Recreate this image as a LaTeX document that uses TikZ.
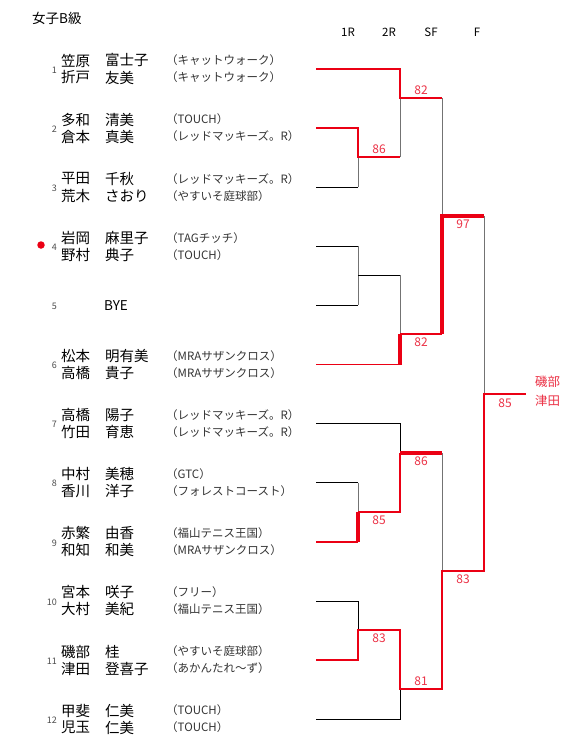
\documentclass[tikz,border=0pt]{standalone}
\usepackage{fontspec}
\setmainfont{Noto Sans CJK JP}
\usetikzlibrary{positioning}
\definecolor{winred}{RGB}{235,0,20}
\definecolor{ptsred}{RGB}{235,50,70}

\begin{document}
\begin{tikzpicture}[x=1pt, y=-1pt,
player/.style={anchor=west, inner sep=0pt, font=\fontsize{14.5}{14.5}\selectfont},
club/.style={anchor=west, inner sep=0pt, font=\fontsize{11.5}{11.5}\selectfont, text=black!80},
seedno/.style={anchor=east, inner sep=0pt, font=\fontsize{9}{9}\selectfont, text=black!70},
pts/.style={inner sep=0pt, font=\fontsize{12}{12}\selectfont, text=ptsred},
rnd/.style={inner sep=0pt, font=\fontsize{11.5}{11.5}\selectfont},
champ/.style={anchor=west, inner sep=0pt, font=\fontsize{12.5}{12.5}\selectfont, text=ptsred},
lose/.style={draw=black, line width=0.8pt},
losev/.style={draw=black!55, line width=1pt},
win/.style={draw=winred, line width=1.8pt},
winb/.style={draw=winred, line width=3.2pt}
]
\useasboundingbox (0,0) rectangle (579,756);

% title and round headers
\node[anchor=west, inner sep=0pt, font=\fontsize{13.5}{13.5}\selectfont] (title) at (32,18) {女子B級};
\node[rnd] (h1) at (348,32) {1R};
\node[rnd] (h2) at (389,32) {2R};
\node[rnd] (h3) at (431,32) {SF};
\node[rnd] (h4) at (477,32) {F};

% entries
\foreach \i/\sa/\ga/\ca/\sb/\gb/\cb in {
1/笠原/富士子/（キャットウォーク）/折戸/友美/（キャットウォーク）,
2/多和/清美/（TOUCH）/倉本/真美/（レッドマッキーズ。R）,
3/平田/千秋/（レッドマッキーズ。R）/荒木/さおり/（やすいそ庭球部）,
4/岩岡/麻里子/（TAGチッチ）/野村/典子/（TOUCH）,
6/松本/明有美/（MRAサザンクロス）/高橋/貴子/（MRAサザンクロス）,
7/高橋/陽子/（レッドマッキーズ。R）/竹田/育恵/（レッドマッキーズ。R）,
8/中村/美穂/（GTC）/香川/洋子/（フォレストコースト）,
9/赤繁/由香/（福山テニス王国）/和知/和美/（MRAサザンクロス）,
10/宮本/咲子/（フリー）/大村/美紀/（福山テニス王国）,
11/磯部/桂/（やすいそ庭球部）/津田/登喜子/（あかんたれ～ず）,
12/甲斐/仁美/（TOUCH）/児玉/仁美/（TOUCH）}{
  \pgfmathsetmacro\y{69+(\i-1)*59.1}
  \coordinate (e\i) at (316,\y);
  \node[seedno] (n\i) at (57,\y+1) {\i};
  \node[player] (sa\i) at (61,\y-8.5) {\sa};
  \node[player] (ga\i) at (105,\y-8.5) {\ga};
  \node[club] (ca\i) at (166,\y-8.5) {\ca};
  \node[player] (sb\i) at (61,\y+8.5) {\sb};
  \node[player] (gb\i) at (105,\y+8.5) {\gb};
  \node[club] (cb\i) at (166,\y+8.5) {\cb};
}
\coordinate (e5) at (316,305);
\node[seedno] (n5) at (57,306) {5};
\node[player, anchor=center, font=\fontsize{13.5}{13.5}\selectfont] (bye) at (116,306) {BYE};
\node[circle, fill=winred, minimum size=7.5pt, inner sep=0pt] (dot) at (41,245) {};

% junctions
\coordinate (a23) at (358,157);
\coordinate (a45) at (358,275);
\coordinate (a89) at (358,512);
\coordinate (a1011) at (358,630);
\coordinate (b1) at (400,98);
\coordinate (b2) at (400,334);
\coordinate (b3) at (400,453);
\coordinate (b4) at (400,689);
\coordinate (c1) at (442,216);
\coordinate (c2) at (442,571);
\coordinate (d) at (484,394);
\coordinate (w) at (526,394);

% losing lines
\draw[lose] (e3) -- (e3 -| a23);
\draw[losev] (e3 -| a23) -- (a23);
\draw[losev] (a23 -| b1) -- (b1);
\draw[lose] (e4) -- (e4 -| a45);
\draw[lose] (e5) -- (e5 -| a45);
\draw[losev] (e4 -| a45) -- (e5 -| a45);
\draw[lose] (a45) -- (a45 -| b2);
\draw[losev] (a45 -| b2) -- (b2);
\draw[losev] (b1 -| c1) -- (c1);
\draw[losev] (c1 -| d) -- (d);
\draw[lose] (e7) -| (b3);
\draw[lose] (e8) -- (e8 -| a89);
\draw[losev] (e8 -| a89) -- (a89);
\draw[losev] (b3 -| c2) -- (c2);
\draw[lose] (e10) -| (a1011);
\draw[lose] (e12) -| (b4);

% winning lines
\draw[win] (e1) -| (b1) -- (b1 -| c1);
\draw[win] (e2) -| (a23) -- (a23 -| b1);
\draw[win] (e6) -- (e6 -| b2);
\draw[winb] (e6 -| b2) -- (b2);
\draw[win] (b2) -- (b2 -| c1);
\draw[winb] (b2 -| c1) -- (c1) -- (c1 -| d);
\draw[win] (e9) -- (e9 -| a89);
\draw[winb] (e9 -| a89) -- (a89);
\draw[win] (a89) -| (b3);
\draw[winb] (b3) -- (b3 -| c2);
\draw[win] (e11) -| (a1011) -- (a1011 -| b4) -- (b4) -- (b4 -| c2) -- (c2) -- (c2 -| d) -- (d) -- (w);

% scores
\node[pts] (p1) at (421,90) {82};
\node[pts] (p2) at (379,149) {86};
\node[pts] (p3) at (421,342) {82};
\node[pts] (p4) at (463,224) {97};
\node[pts] (p5) at (505,403) {85};
\node[pts] (p6) at (421,461) {86};
\node[pts] (p7) at (379,520) {85};
\node[pts] (p8) at (463,579) {83};
\node[pts] (p9) at (379,638) {83};
\node[pts] (p10) at (421,681) {81};

% champion
\node[champ] (wa) at (535,382) {磯部};
\node[champ] (wb) at (535,401) {津田};
\end{tikzpicture}
\end{document}
